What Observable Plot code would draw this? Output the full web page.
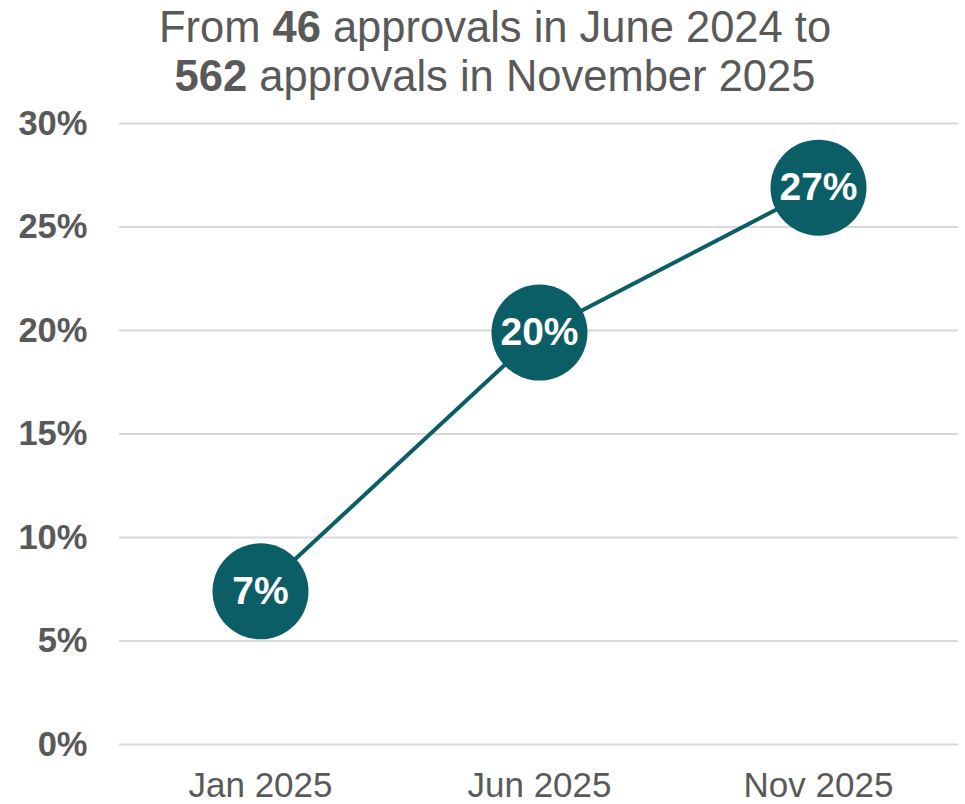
<!DOCTYPE html>
<html>
<head>
<meta charset="utf-8">
<script src="https://cdn.jsdelivr.net/npm/d3@7"></script>
<script src="https://cdn.jsdelivr.net/npm/@observablehq/plot@0.6"></script>
<style>
  html, body { margin: 0; padding: 0; background: #fff; }
  #title {
    font-family: "Liberation Sans", Arial, sans-serif;
    font-size: 43.5px;
    line-height: 49px;
    color: #595959;
    text-align: center;
    width: 965px;
    padding-left: 25px;
    height: 100px;
    box-sizing: border-box;
    padding-top: 3px;
  }
  #title b { font-weight: bold; }
</style>
</head>
<body>
<div id="title">From <b>46</b> approvals in June 2024 to<br><b>562</b> approvals in November 2025</div>
<div id="chart"></div>
<script>
const categories = ["Jan 2025", "Jun 2025", "Nov 2025"];
const shares = [7.4, 19.9, 26.9];
const yTicks = [0, 5, 10, 15, 20, 25, 30];

const data = categories.map((c, i) => ({ period: c, share: shares[i], label: Math.round(shares[i]) + "%" }));

const teal = "#0b5d66";
const gray = "#595959";

const chart = Plot.plot({
  width: 965,
  height: 704,
  marginLeft: 119,
  marginRight: 7,
  marginTop: 23,
  marginBottom: 60,
  style: { fontFamily: "Liberation Sans, Arial, sans-serif", background: "white", overflow: "visible" },
  x: { type: "point", domain: categories, padding: 0.5, label: null },
  y: { domain: [0, 30], label: null },
  marks: [
    Plot.ruleY(yTicks, { stroke: "#d9d9d9", strokeWidth: 2 }),
    Plot.axisY(yTicks, {
      tickSize: 0, tickPadding: 32, tickFormat: d => d + "%",
      fontSize: 34.5, fontWeight: "bold", fill: gray, label: null
    }),
    Plot.axisX({
      tickSize: 0, tickPadding: 28, fontSize: 35, fill: gray, label: null
    }),
    Plot.line(data, { x: "period", y: "share", stroke: teal, strokeWidth: 4 }),
    Plot.dot(data, { x: "period", y: "share", r: 48, fill: teal, stroke: null }),
    Plot.text(data, { x: "period", y: "share", text: "label", fill: "white", fontSize: 39, fontWeight: "bold" })
  ]
});
document.getElementById("chart").appendChild(chart);
</script>
</body>
</html>
